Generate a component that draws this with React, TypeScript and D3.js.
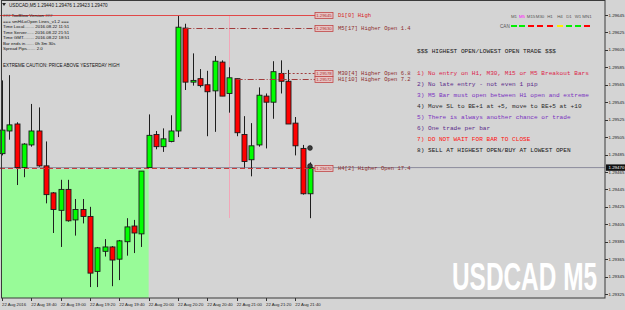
import React, { useLayoutEffect, useRef, useState } from "react";
import * as d3 from "d3";

// ---- data ----
const opens = [1.29486,1.29512,1.29520,1.29470,1.29496,1.29512,1.29472,1.29441,1.29421,1.29445,1.29410,1.29422,1.29414,1.29351,1.29374,1.29379,1.29365,1.29385,1.29403,1.29394,1.29470,1.29508,1.29494,1.29500,1.29512,1.29630,1.29568,1.29572,1.29565,1.29558,1.29591,1.29555,1.29572,1.29508,1.29479,1.29496,1.29552,1.29545,1.29578,1.29569,1.29521,1.29492,1.29440];
const highs = [1.29570,1.29576,1.29522,1.29498,1.29543,1.29539,1.29500,1.29442,1.29456,1.29456,1.29434,1.29434,1.29425,1.29379,1.29388,1.29380,1.29387,1.29412,1.29410,1.29466,1.29531,1.29512,1.29515,1.29530,1.29644,1.29635,1.29601,1.29583,1.29581,1.29598,1.29593,1.29585,1.29572,1.29529,1.29521,1.29562,1.29555,1.29592,1.29593,1.29582,1.29528,1.29496,1.29476];
const lows = [1.29484,1.29502,1.29450,1.29459,1.29494,1.29471,1.29429,1.29395,1.29379,1.29408,1.29392,1.29406,1.29333,1.29333,1.29368,1.29334,1.29341,1.29369,1.29372,1.29379,1.29470,1.29491,1.29488,1.29499,1.29505,1.29559,1.29564,1.29562,1.29506,1.29511,1.29552,1.29533,1.29506,1.29470,1.29460,1.29494,1.29492,1.29526,1.29555,1.29520,1.29484,1.29439,1.29412];
const closes = [1.29513,1.29519,1.29470,1.29497,1.29512,1.29472,1.29439,1.29422,1.29445,1.29409,1.29422,1.29414,1.29349,1.29378,1.29379,1.29364,1.29386,1.29402,1.29395,1.29466,1.29507,1.29494,1.29503,1.29512,1.29631,1.29568,1.29570,1.29564,1.29557,1.29592,1.29552,1.29573,1.29510,1.29477,1.29495,1.29553,1.29545,1.29580,1.29569,1.29520,1.29495,1.29440,1.29470];

const xTickBars = [0,4,8,12,16,20,24,28,32,36,40];
const xTickLabels = ["22 Aug 2016","22 Aug 18:40","22 Aug 19:00","22 Aug 19:20","22 Aug 19:40","22 Aug 20:00","22 Aug 20:20","22 Aug 20:40","22 Aug 21:00","22 Aug 21:20","22 Aug 21:40"];
const yTicks = [1.29645,1.29625,1.29605,1.29585,1.29565,1.29545,1.29525,1.29505,1.29485,1.29465,1.29445,1.29425,1.29405,1.29385,1.29365,1.29345,1.29325];

const lastPrice = 1.29470;

// level lines: price, start bar (-1 = left edge), label, style
const levelPrices = [1.29645, 1.29630, 1.29578, 1.29572, 1.29470];
const levelStarts = [-1, 25, 38, 32, -1];
const levelNames = ["D1[0] High", "M5[17] Higher Open 1.4", "M30[4] Higher Open 6.8", "H1[10] Higher Open 7.2", "H4[2] Higher Open 17.4"];
const levelDash = ["", "6,2,1,2", "2,2", "6,2,1,2", "5,3"];
const levelColors = ["#e04848", "#a03c3c", "#a03c3c", "#a03c3c", "#c83c3c"];

const rules = [
  "1) No entry on H1, M30, M15 or M5 Breakout Bars",
  "2) No late entry - not even 1 pip",
  "3) M5 Bar must open between H1 open and extreme",
  "4) Move SL to BE+1 at +5, move to BE+5 at +10",
  "5) There is always another chance or trade",
  "6) One trade per bar",
  "7) DO NOT WAIT FOR BAR TO CLOSE",
  "8) SELL AT HIGHEST OPEN/BUY AT LOWEST OPEN",
];
const ruleColors = ["#dc1f4a", "#5a2a8a", "#7a30c0", "#2a2a2a", "#7a30c0", "#5a2a8a", "#ff1010", "#151515"];

const infoLines = [
  "### TooBlow Version ###",
  "=== smHiLoOpen Lines_v1.2 ===",
  "Time Local........ 2016.08.22 11:51",
  "Time Server...... 2016.08.22 21:51",
  "Time GMT......... 2016.08.22 18:51",
  "Bar ends in....... 0h 3m 30s",
  "Spread Pips....... 2.0",
];

const tfLabels = ["M1","M5","M15","M30","H1","H4","D1","W1","MN1"];
const tfCenters = [514,522,531,540,550,560,569,578,587];
const tfColors = ["#00ee00","#00ee00","#ff0000","#ff0000","#ff0000","#ffee00","#00ee00","#00ee00","#ff0000"];

// rectangle zone (bars, price)
const zoneStartBar = 0;
const zoneEndBar = 20;
const zoneTop = 1.29468;

const W = 625, H = 310;
const chartRight = 605, chartBottom = 298;

export default function App() {
  const y = d3.scaleLinear().domain([1.29325, 1.29645]).range([294.04, 15]);
  const x = d3.scaleLinear().domain([0, 42]).range([2, 310]);
  const sans = "'Liberation Sans', Arial, sans-serif";
  const mono = "'Liberation Mono', 'Courier New', monospace";
  const wmRef = useRef<SVGTextElement>(null);
  const [wmScale, setWmScale] = useState(0.7);

  useLayoutEffect(() => {
    if (wmRef.current) {
      const w = wmRef.current.getComputedTextLength();
      if (w > 0) setWmScale(145 / w);
    }
  }, []);

  return (
    <svg width={W} height={H} style={{ position: "fixed", left: 0, top: 0, background: "#d4d4d4" }}>
      <rect x={0} y={0} width={W} height={H} fill="#d4d4d4" />
      {/* zone */}
      <rect x={x(zoneStartBar) - 1} y={y(zoneTop)} width={x(zoneEndBar) - x(zoneStartBar) + 1} height={chartBottom - y(zoneTop)} fill="#98fb98" />
      {/* pink vertical */}
      <line x1={Math.round(x(31)) + 0.5} x2={Math.round(x(31)) + 0.5} y1={15} y2={218} stroke="#f2a6b8" strokeWidth={1} />
      {/* bid line */}
      <line x1={0} x2={chartRight} y1={y(lastPrice)} y2={y(lastPrice)} stroke="#8c8c9c" strokeWidth={1} />
      {/* candles */}
      {opens.map((o, i) => {
        const c = closes[i];
        const cx = Math.round(x(i)) + 0.5;
        const top = y(Math.max(o, c));
        const bot = y(Math.min(o, c));
        return (
          <g key={i}>
            <line x1={cx} x2={cx} y1={y(highs[i])} y2={y(lows[i])} stroke="#1e1e1e" strokeWidth={1} />
            <rect x={cx - 2.5} y={top} width={5} height={Math.max(bot - top, 1.5)} fill={c >= o ? "#00ff00" : "#ff0000"} stroke="#1a1a1a" strokeWidth={0.9} />
          </g>
        );
      })}
      {/* level lines */}
      {levelPrices.map((p, i) => {
        const ly = Math.round(y(p)) + 0.5;
        const x0 = levelStarts[i] < 0 ? 0 : x(levelStarts[i]);
        return (
          <g key={"lv" + i}>
            <line x1={x0} x2={315} y1={ly} y2={ly} stroke={levelColors[i]} strokeWidth={1} strokeDasharray={levelDash[i] || undefined} />
            <rect x={315} y={ly - 3} width={18} height={6} fill="#e6c4c4" stroke="#c04646" strokeWidth={0.8} />
            <text x={324} y={ly + 1.6} fontSize={4.3} fontFamily={sans} fill="#b03030" textAnchor="middle">{p.toFixed(5)}</text>
            <text x={338} y={ly + 1.8} fontSize={5.5} fontFamily={mono} fill={i === 0 ? "#d82020" : "#8c2a2a"}>{levelNames[i]}</text>
          </g>
        );
      })}
      {/* markers */}
      <circle cx={310} cy={148} r={2.4} fill="#3a3a3a" stroke="#111" strokeWidth={0.6} />
      <circle cx={310} cy={166} r={2.4} fill="#3a3a3a" stroke="#111" strokeWidth={0.6} />
      {/* rules text */}
      <text x={417} y={53} fontSize={6.1} fontFamily={mono} fill="#151515">$$$ HIGHEST OPEN/LOWEST OPEN TRADE $$$</text>
      {rules.map((r, i) => (
        <text key={"r" + i} x={417} y={75.3 + i * 10.95} fontSize={6.1} fontFamily={mono} fill={ruleColors[i]}>{r}</text>
      ))}
      {/* info block */}
      <path d="M2,3 L6,3 L4,6 Z" fill="#222" />
      <text x={9} y={6.6} fontSize={4.6} fontFamily={sans} fill="#111">USDCAD,M5  1.29440 1.29476 1.29423 1.29470</text>
      {infoLines.map((t, i) => (
        <text key={"in" + i} x={3} y={17.4 + i * 5.5} fontSize={4.4} fontFamily={sans} fill="#111">{t}</text>
      ))}
      <text x={3} y={67} fontSize={4.5} fontFamily={sans} fill="#111">EXTREME CAUTION: PRICE ABOVE YESTERDAY HIGH</text>
      {/* timeframe panel */}
      {tfLabels.map((t, i) => (
        <g key={"tf" + i}>
          <text x={tfCenters[i]} y={17.5} fontSize={4.4} fontFamily={sans} fill={t === "M5" ? "#ff00ff" : "#555"} textAnchor="middle">{t}</text>
          <rect x={tfCenters[i] - 3} y={25} width={6} height={2} fill={tfColors[i]} />
        </g>
      ))}
      <text x={500} y={27.6} fontSize={4.6} fontFamily={sans} fill="#555">CAN</text>
      {/* watermark */}
      <text ref={wmRef} transform={`translate(452,290) scale(${wmScale},1)`} x={0} y={0} fontSize={38} fontWeight="bold" fontFamily="'Liberation Sans Narrow', 'Liberation Sans', Arial, sans-serif" fill="#ffffff">USDCAD M5</text>
      {/* frame */}
      <rect x={1.5} y={0.5} width={chartRight - 1.5} height={chartBottom - 0.5} fill="none" stroke="#3a3a3a" strokeWidth={1} />
      {/* y axis */}
      {yTicks.map((v, i) => (
        <g key={"yt" + i}>
          <line x1={chartRight} x2={chartRight + 3} y1={Math.round(y(v)) + 0.5} y2={Math.round(y(v)) + 0.5} stroke="#333" />
          <text x={608.5} y={y(v) + 1.6} fontSize={4.4} fontFamily={sans} fill="#222">{v.toFixed(5)}</text>
        </g>
      ))}
      <rect x={606} y={y(lastPrice) - 3.2} width={19} height={6.4} fill="#111" />
      <text x={608.5} y={y(lastPrice) + 1.6} fontSize={4.4} fontFamily={sans} fill="#fff">{lastPrice.toFixed(5)}</text>
      {/* x axis */}
      {xTickBars.map((b, i) => (
        <g key={"xt" + i}>
          <line x1={Math.round(x(b)) + 0.5} x2={Math.round(x(b)) + 0.5} y1={chartBottom} y2={chartBottom + 3} stroke="#333" />
          <text x={x(b)} y={305.5} fontSize={4.3} fontFamily={sans} fill="#222">{xTickLabels[i]}</text>
        </g>
      ))}
    </svg>
  );
}
